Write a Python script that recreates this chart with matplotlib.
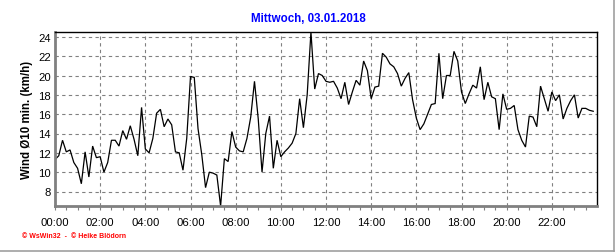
import matplotlib
matplotlib.use("Agg")
import matplotlib.pyplot as plt
import matplotlib.dates as mdates
from matplotlib.lines import Line2D
import pandas as pd

title = "Mittwoch, 03.01.2018"
ylabel = "Wind Ø10 min. (km/h)"
footer = "© WsWin32  -  © Heike Blödorn"

start = "2018-01-03 00:00"
step = "10min"

wind = [
    11.3, 11.7, 13.3, 12.1, 12.3, 11.0, 10.4, 8.8, 12.1, 9.5,
    12.7, 11.5, 11.6, 10.0, 11.0, 13.3, 13.3, 12.7, 14.3, 13.4,
    14.8, 13.4, 11.7, 16.7, 12.4, 12.0, 13.5, 16.1, 16.5, 14.7,
    15.5, 14.9, 12.1, 12.0, 10.2, 13.5, 19.9, 19.8, 14.5, 11.8,
    8.4, 10.0, 9.9, 9.7, 6.5, 11.4, 11.1, 14.2, 12.6, 12.2,
    12.1, 13.5, 15.7, 19.4, 15.5, 10.0, 14.0, 15.8, 10.4, 13.3,
    11.6, 12.1, 12.5, 13.0, 14.0, 17.6, 14.6, 18.0, 24.5, 18.6,
    20.2, 20.0, 19.4, 19.3, 19.4, 18.7, 17.6, 19.3, 17.0, 18.3,
    19.5, 19.0, 21.5, 20.5, 17.6, 18.8, 18.9, 22.3, 21.9, 21.2,
    20.9, 20.2, 18.9, 19.7, 20.3, 17.5, 15.6, 14.4, 15.0, 16.0,
    17.0, 17.1, 22.3, 17.6, 20.0, 20.0, 22.5, 21.5, 18.3, 17.1,
    18.1, 19.0, 18.7, 20.9, 17.5, 19.3, 17.8, 17.6, 14.4, 18.1,
    16.5, 16.6, 16.9, 14.4, 13.3, 12.6, 15.8, 15.7, 14.7, 18.9,
    17.6, 16.3, 18.3, 17.4, 18.0, 15.5, 16.6, 17.4, 18.0, 15.6,
    16.6, 16.6, 16.4, 16.3,
]

x_tick_labels = ["00:00", "02:00", "04:00", "06:00", "08:00", "10:00",
                 "12:00", "14:00", "16:00", "18:00", "20:00", "22:00"]
y_ticks = [8, 10, 12, 14, 16, 18, 20, 22, 24]
y_range = (6.5, 24.5)

times = pd.date_range(start, periods=len(wind), freq=step)
day0 = pd.Timestamp(start)
major_times = [day0 + pd.Timedelta(hours=2 * k) for k in range(len(x_tick_labels))]
minor_times = pd.date_range(start, periods=48, freq="30min")

plt.rcParams['font.family'] = ['Liberation Sans', 'DejaVu Sans']

fig = plt.figure(figsize=(6.16, 2.53), dpi=100)
fig.patch.set_facecolor("white")
ax = fig.add_axes([55/616, 1-207/253, (597-55)/616, (207-33)/253])

ax.plot(times, wind, color="black", lw=0.9, solid_joinstyle="miter")

ax.set_xlim(day0, day0 + pd.Timedelta(hours=24))
ax.set_ylim(*y_range)
ax.set_yticks(y_ticks)
ax.set_xticks(major_times)
ax.set_xticklabels(x_tick_labels)
ax.set_xticks(minor_times, minor=True)

ax.grid(True, which="major", color="#808080", linestyle=(0, (3, 3)), lw=0.8)
ax.tick_params(axis="x", which="both", direction="out", length=3, width=0.8,
               color="#808080", labelsize=8.1, pad=5)
ax.tick_params(axis="y", which="both", length=0, labelsize=8.1, pad=3)

for side in ("top", "right"):
    ax.spines[side].set_color("black")
    ax.spines[side].set_linewidth(1.0)
for side in ("left", "bottom"):
    ax.spines[side].set_color("#808080")
    ax.spines[side].set_linewidth(2.0)

fig.text(308/616, 1-19/253, title, color="#0000ff", fontsize=8.3,
         fontweight="bold", ha="center", va="center")
fig.text(27/616, 1-120/253, ylabel, color="black", fontsize=8.3,
         fontweight="bold", ha="center", va="center", rotation=90)
fig.text(22/616, 1-237/253, footer, color="#ff0000", fontsize=5.0,
         fontweight="bold", ha="left", va="center")

# panel edge (right and bottom)
fig.add_artist(Line2D([613.5/616, 613.5/616], [1-251.5/253, 1.0],
                      transform=fig.transFigure, color="#a0a0a0", lw=1.2))
fig.add_artist(Line2D([0, 613.5/616], [1-251.5/253, 1-251.5/253],
                      transform=fig.transFigure, color="#a0a0a0", lw=1.2))

fig.savefig("out.png", dpi=100, facecolor="white")
